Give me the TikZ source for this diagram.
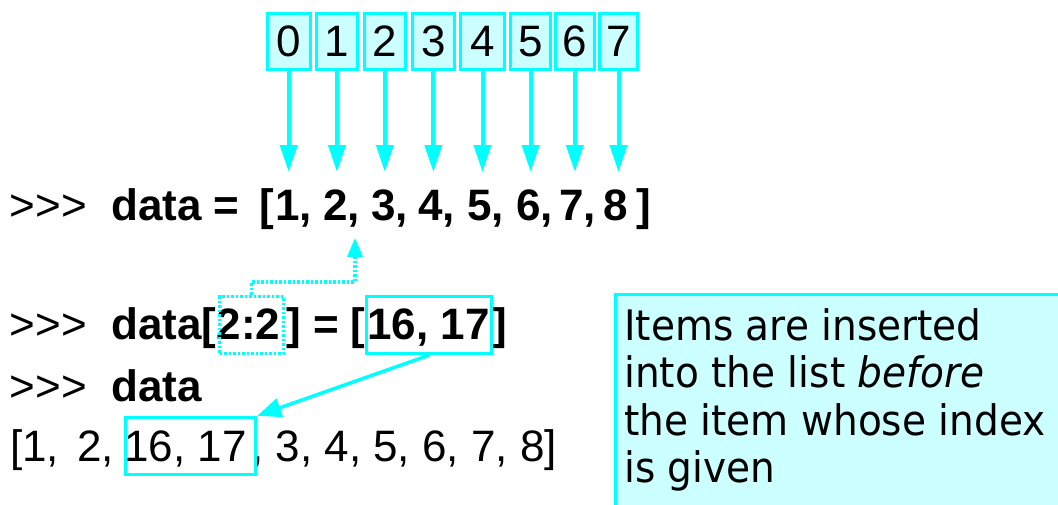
\documentclass[tikz,border=0pt]{standalone}
\usepackage{fontspec}
\setmainfont{Liberation Sans}[Ligatures=TeXOff]
\newfontfamily\notefont{DejaVu Sans}[FakeStretch=0.93]
\usetikzlibrary{arrows.meta,calc}
\definecolor{hl}{HTML}{00FFFF}
\definecolor{hlfill}{HTML}{CCFFFF}

\begin{document}
\begin{tikzpicture}[x=1pt,y=-1pt,
  code/.style={font=\fontsize{44}{50}\selectfont, inner sep=0pt, anchor=base west},
  codeb/.style={code, font=\fontsize{44}{50}\selectfont\bfseries},
  idxbox/.style={draw=hl, fill=hlfill, line width=3pt, minimum height=56pt,
    inner sep=0pt, font=\fontsize{44}{50}\selectfont},
  idxarrow/.style={draw=hl, line width=4pt, -{Triangle[length=27pt,width=17pt]}},
  hlbox/.style={draw=hl, line width=3.5pt, inner sep=0pt},
  dotbox/.style={draw=hl, line width=3.5pt, dash pattern=on 2.5pt off 2pt, inner sep=0pt},
  solidarrow/.style={draw=hl, line width=3.5pt, -{Triangle[length=24pt,width=19pt]}},
  dotarrow/.style={draw=hl, line width=3.5pt, dash pattern=on 2.5pt off 2pt,
    -{Triangle[length=19pt,width=15pt]}},
  notebox/.style={draw=hl, fill=hlfill, line width=3pt, anchor=north west, inner sep=0pt},
  notetext/.style={font=\notefont\fontsize{42}{47.5}\selectfont, align=left,
    anchor=north west, inner sep=0pt}
]
\useasboundingbox (0,0) rectangle (1058,504);
\fill[white] (0,0) rectangle (1058,504);
\clip (0,0) rectangle (1058,504);

% index boxes with arrows pointing at the list items
\coordinate (tipline) at (0,172);
\foreach \i/\l/\r in {0/265.7/311.7, 1/315/359, 2/362.7/407, 3/411/455.7,
                      4/459/506, 5/509.3/552, 6/554/595.7, 7/597.7/639.3} {
  \node[idxbox, minimum width={\r-\l-3}] (i\i) at ({(\l+\r)/2},41.35) {\i};
  \draw[idxarrow] (i\i.south) -- (i\i.south |- tipline);
}

% >>> data = [1, 2, 3, 4, 5, 6, 7, 8]
\node[code] (p1) at (9.5,220) {>>>};
\node[codeb] (s1) at (111,220) {data =};
\node[codeb] (ob1) at (259,220) {[};
\foreach \v/\x in {1/287,2/335,3/383,4/430,5/479,6/528,7/571}
  \node[codeb] (v\v) at (\x-12.2,220) {\v,};
\node[codeb] (v8) at (615-12.2,220) {8};
\node[codeb] (cb1) at (636,220) {]};

% >>> data[2:2] = [16, 17]
\node[code] (p2) at (9.5,339) {>>>};
\node[codeb] (s2) at (111,339) {data[};
\node[codeb] (k2) at (s2.base east) {2:2};
\node[codeb] (e2) at (286,339) {] = [};
\node[codeb] (n2) at (367,339) {16, 17};
\node[codeb] (c2) at (492,339) {]};
\node[dotbox, minimum width=64, minimum height=57] (slice) at (251.5,325) {};
\node[hlbox, minimum width=125, minimum height=57] (src) at (429,325) {};

% >>> data
\node[code] (p3) at (9.5,401) {>>>};
\node[codeb] (s3) at (111,401) {data};

% [1, 2, 16, 17, 3, 4, 5, 6, 7, 8]
\node[code] (r1) at (10,461) {[1,\hspace{6pt} 2,};
\node[code] (r2) at (124,461) {16, 17};
\node[code] (r3) at (251,461) {, 3, 4, 5, 6, 7, 8]};
\node[hlbox, minimum width=130, minimum height=57] (dst) at (190.5,446) {};

% connectors
\coordinate (ins) at (355,238);
\draw[dotarrow] (slice.north) -- ++(0,-13) -| (ins);
\draw[solidarrow] (src.south) -- (dst.north east);

% explanatory note
\node[notebox, minimum width=470, minimum height=240] (note) at (614,293) {};
\node[notetext] (notetxt) at (624,308)
  {Items are inserted\\into the list \textit{before}\\the item whose index\\is given};
\end{tikzpicture}
\end{document}
